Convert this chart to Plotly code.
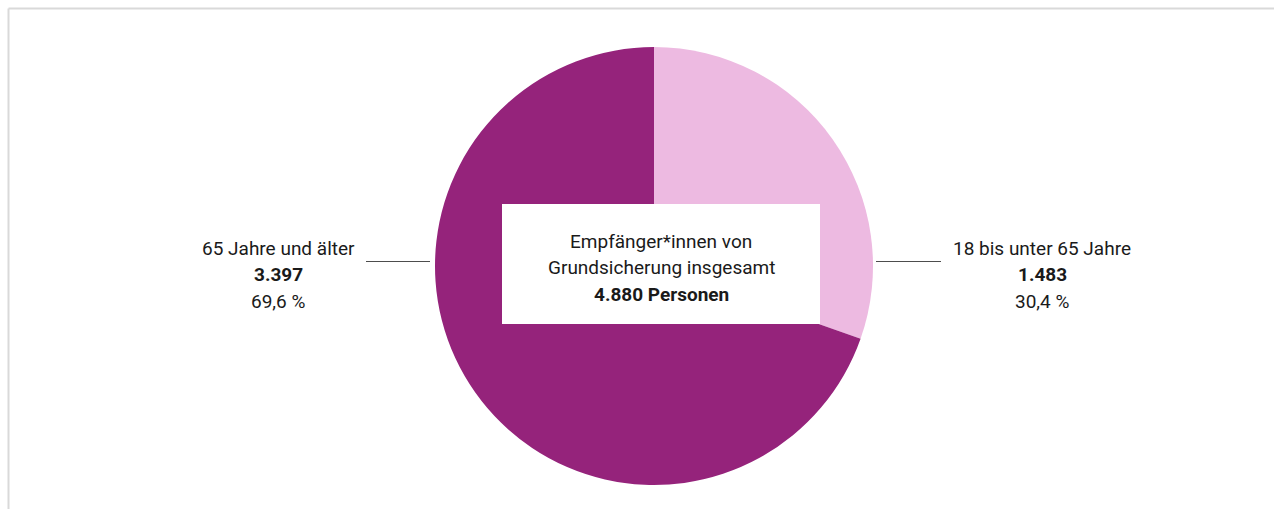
import plotly.graph_objects as go

# Empfänger*innen von Grundsicherung nach Altersgruppe
groups = ["18 bis unter 65 Jahre", "65 Jahre und älter"]
persons = [1483, 3397]
colors = ["#EDBAE1", "#95237B"]

W, H = 1274, 509
FONT = "Roboto, 'Noto Sans', sans-serif"
TXT = "#1a1a1a"

total = sum(persons)


def de_int(n):
    return f"{n:,}".replace(",", ".")


def de_pct(v):
    return f"{v:.1f}".replace(".", ",") + " %"


# pie geometry in pixels
cx, cy, r = 654, 266, 219


def px(x):
    return x / W


def py(y):
    return 1 - y / H


fig = go.Figure(
    go.Pie(
        labels=groups,
        values=persons,
        sort=False,
        direction="clockwise",
        rotation=0,
        marker=dict(colors=colors, line=dict(width=0)),
        textinfo="none",
        hoverinfo="skip",
        showlegend=False,
        domain=dict(x=[px(cx - r), px(cx + r)], y=[py(cy + r), py(cy - r)]),
    )
)

shapes = [
    # frame
    dict(type="line", xref="paper", yref="paper", x0=px(8.5), x1=1, y0=py(8.5), y1=py(8.5),
         line=dict(color="#d9d9d9", width=2)),
    dict(type="line", xref="paper", yref="paper", x0=px(8.5), x1=px(8.5), y0=py(8.5), y1=0,
         line=dict(color="#d9d9d9", width=2)),
    # centre box
    dict(type="rect", xref="paper", yref="paper", x0=px(502), x1=px(820), y0=py(324), y1=py(204),
         fillcolor="white", line=dict(width=0)),
    # leader lines
    dict(type="line", xref="paper", yref="paper", x0=px(366), x1=px(430), y0=py(261.5), y1=py(261.5),
         line=dict(color="#4d4d4d", width=1)),
    dict(type="line", xref="paper", yref="paper", x0=px(876), x1=px(941), y0=py(261.5), y1=py(261.5),
         line=dict(color="#4d4d4d", width=1)),
]


def text_block(x, y_first, lines, step=26.5, size=19):
    out = []
    for i, t in enumerate(lines):
        out.append(dict(xref="paper", yref="paper", x=px(x), y=py(y_first + i * step),
                        xanchor="center", yanchor="middle", showarrow=False,
                        text=t, font=dict(family=FONT, size=size, color=TXT)))
    return out


annotations = []
annotations += text_block(661, 241, ["Empfänger*innen von", "Grundsicherung insgesamt",
                                     f"<b>{de_int(total)} Personen</b>"])
annotations += text_block(278, 248, [groups[1], f"<b>{de_int(persons[1])}</b>",
                                     de_pct(persons[1] / total * 100)])
annotations += text_block(1042, 248, [groups[0], f"<b>{de_int(persons[0])}</b>",
                                      de_pct(persons[0] / total * 100)])

fig.update_layout(
    width=W, height=H,
    margin=dict(l=0, r=0, t=0, b=0),
    paper_bgcolor="white", plot_bgcolor="white",
    shapes=shapes, annotations=annotations,
)

fig.write_html("out.html", config={"displayModeBar": False})
